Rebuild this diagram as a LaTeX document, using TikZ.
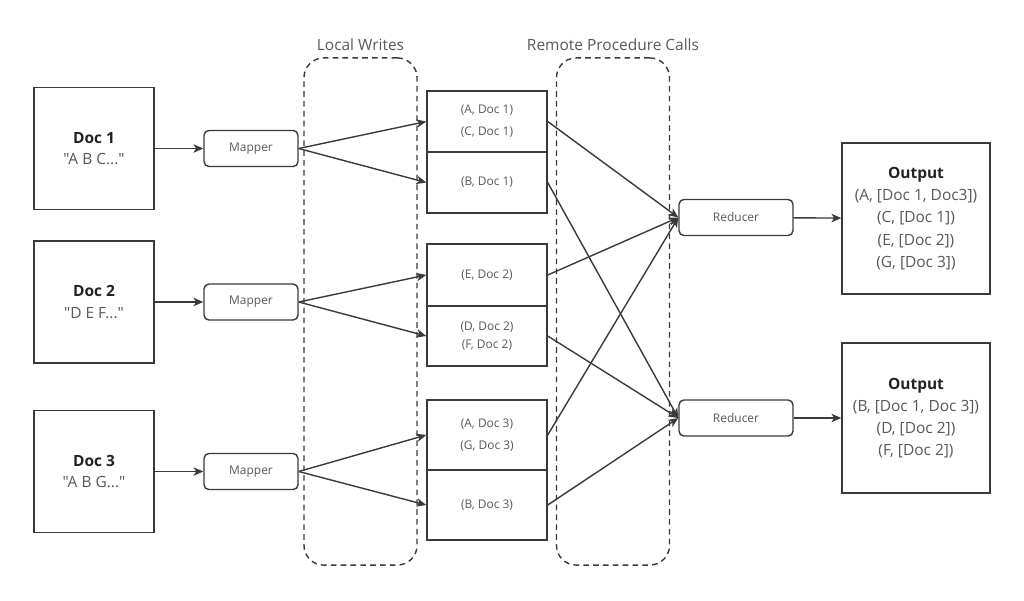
\documentclass[tikz,border=0pt]{standalone}
\usepackage{fontspec}
\setmainfont{Open Sans}[Ligatures=TeXOff]
\usetikzlibrary{arrows.meta, positioning}
\definecolor{linegray}{HTML}{3A3A3A}
\definecolor{textdark}{HTML}{222222}
\definecolor{textgray}{HTML}{585858}

\begin{document}
\begin{tikzpicture}[x=0.025cm, y=-0.025cm, line width=1pt,
    doc/.style={draw=linegray, minimum width=3cm, minimum height=3.05cm, align=center, text=textgray, font=\fontsize{11}{15.5}\selectfont},
    worker/.style={draw=linegray, rounded corners=3.5pt, minimum height=0.9cm, text=textgray, font=\fontsize{8.5}{12}\selectfont},
    part/.style={draw=linegray, minimum width=3cm, align=center, text=textgray, font=\fontsize{8.5}{12.7}\selectfont},
    region/.style={draw=linegray, dash pattern=on 4pt off 3pt, rounded corners=14pt, minimum width=2.825cm, minimum height=12.675cm},
    title/.style={text=textgray, font=\fontsize{11}{13}\selectfont},
    outbox/.style={draw=linegray, minimum width=3.7cm, align=center, text=textgray, font=\fontsize{11}{15.8}\selectfont},
    flow/.style={draw=linegray, -{Stealth[length=7pt, width=6pt, inset=2pt]}}]
    \useasboundingbox (0,0) rectangle (1024,600);

    % Regions
    \node[region] (lw) at (360.5,311.5) {};
    \node[title, above=1pt] at (lw.north) {Local Writes};
    \node[region] (rpc) at (613,311.5) {};
    \node[title, above=1pt] at (rpc.north) {Remote Procedure Calls};

    % Documents
    \node[doc] (d1) at (94,148.5) {{\color{textdark}\bfseries Doc 1}\\"A B C..."};
    \node[doc] (d2) at (94,302) {{\color{textdark}\bfseries Doc 2}\\"D E F..."};
    \node[doc] (d3) at (94,471.5) {{\color{textdark}\bfseries Doc 3}\\"A B G..."};

    % Mappers
    \node[worker, minimum width=2.35cm] (m1) at (251,148.5) {Mapper};
    \node[worker, minimum width=2.35cm] (m2) at (251,302) {Mapper};
    \node[worker, minimum width=2.35cm] (m3) at (251,471.5) {Mapper};

    % Partitions
    \node[part, minimum height=1.525cm] (pa1) at (487,121.5) {(A, Doc 1)\\[3pt](C, Doc 1)};
    \node[part, minimum height=1.525cm] (pb1) at (487,182.5) {(B, Doc 1)};
    \node[part, minimum height=1.55cm] (pa2) at (487,275) {(E, Doc 2)};
    \node[part, minimum height=1.5cm] (pb2) at (487,336) {(D, Doc 2)\\(F, Doc 2)};
    \node[part, minimum height=1.75cm] (pa3) at (487,435) {(A, Doc 3)\\[3pt](G, Doc 3)};
    \node[part, minimum height=1.75cm] (pb3) at (487,505) {(B, Doc 3)};

    % Reducers
    \node[worker, minimum width=2.85cm] (r1) at (736,217.5) {Reducer};
    \node[worker, minimum width=2.85cm] (r2) at (736,418) {Reducer};

    % Outputs
    \node[outbox, minimum height=3.78cm] (o1) at (916,218.5) {{\color{textdark}\bfseries Output}\\(A, [Doc 1, Doc3])\\(C, [Doc 1])\\(E, [Doc 2])\\(G, [Doc 3])};
    \node[outbox, minimum height=3.75cm] (o2) at (916,418) {{\color{textdark}\bfseries Output}\\(B, [Doc 1, Doc 3])\\(D, [Doc 2])\\(F, [Doc 2])};

    % Connectors
    \foreach \i in {1,2,3} {
        \draw[flow] (d\i) -- (m\i);
        \draw[flow] (m\i.east) -- (pa\i.west);
        \draw[flow] (m\i.east) -- (pb\i.west);
        \draw[flow] (pa\i.east) -- (r1.west);
        \draw[flow] (pb\i.east) -- (r2.west);
    }
    \draw[flow] (r1) -- (o1);
    \draw[flow] (r2) -- (o2);
\end{tikzpicture}
\end{document}
